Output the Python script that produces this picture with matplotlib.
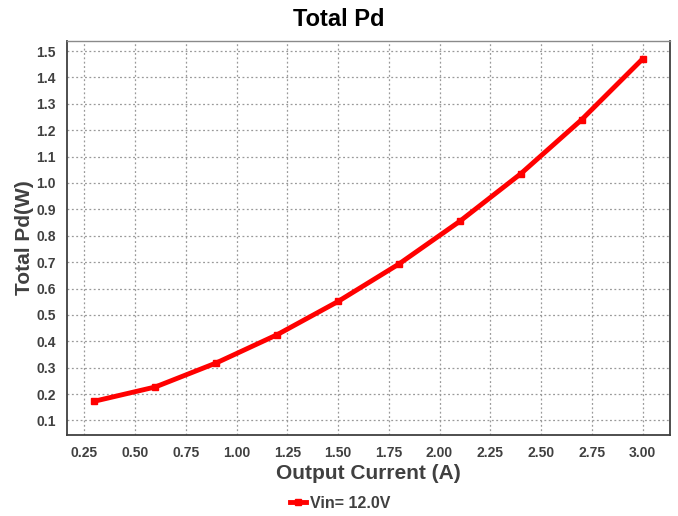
import matplotlib
matplotlib.use("Agg")
import matplotlib.pyplot as plt

# data
output_current = [0.3, 0.6, 0.9, 1.2, 1.5, 1.8, 2.1, 2.4, 2.7, 3.0]
total_pd = [0.173, 0.227, 0.318, 0.425, 0.551, 0.693, 0.855, 1.035, 1.24, 1.47]
x_ticks = [0.25, 0.50, 0.75, 1.00, 1.25, 1.50, 1.75, 2.00, 2.25, 2.50, 2.75, 3.00]
y_ticks = [0.1, 0.2, 0.3, 0.4, 0.5, 0.6, 0.7, 0.8, 0.9, 1.0, 1.1, 1.2, 1.3, 1.4, 1.5]
series_label = "Vin= 12.0V"

INK = "#404040"
plt.rcParams.update({
    "font.family": ["Liberation Sans", "DejaVu Sans"],
    "font.weight": "bold",
})

W, H = 678, 516
fig = plt.figure(figsize=(W / 100, H / 100), dpi=100)
ax = fig.add_axes([67 / W, (H - 435) / H, (670 - 67) / W, (435 - 41) / H])

line, = ax.plot(output_current, total_pd, color="#ff0000", lw=3.5,
                marker="s", markersize=5, label=series_label, zorder=3)

ax.set_xlim(0.165, 3.135)
ax.set_ylim(0.045, 1.538)
ax.set_xticks(x_ticks)
ax.set_xticklabels([f"{v:.2f}" for v in x_ticks])
ax.set_yticks(y_ticks)
ax.set_yticklabels([f"{v:.1f}" for v in y_ticks])
ax.tick_params(length=0, labelsize=10, labelcolor=INK, pad=8)
for lab in ax.get_xticklabels() + ax.get_yticklabels():
    lab.set_fontweight("bold")

ax.grid(True, ls=(0, (1.5, 2)), color="#999999", lw=0.9)
ax.set_axisbelow(True)
for s in ax.spines.values():
    s.set_color(INK)
    s.set_linewidth(1.3)
ax.spines["top"].set_color("#8a8a8a")
ax.spines["top"].set_linewidth(1.0)

ax.set_xlabel("Output Current (A)", fontsize=15, fontweight="bold", color=INK, labelpad=3)
ax.set_ylabel("Total Pd(W)", fontsize=15, fontweight="bold", color=INK, labelpad=2)
fig.text(0.5, 1 - 20 / H, "Total Pd", ha="center", va="center",
         fontsize=17, fontweight="bold", color="black")

fig.legend(handles=[line], loc="center", bbox_to_anchor=(340 / W, 1 - 503 / H),
           frameon=False, handlelength=1.0, handletextpad=0.25,
           labelcolor=INK, prop={"weight": "bold", "size": 11.5})

fig.savefig("out.png", dpi=100)
